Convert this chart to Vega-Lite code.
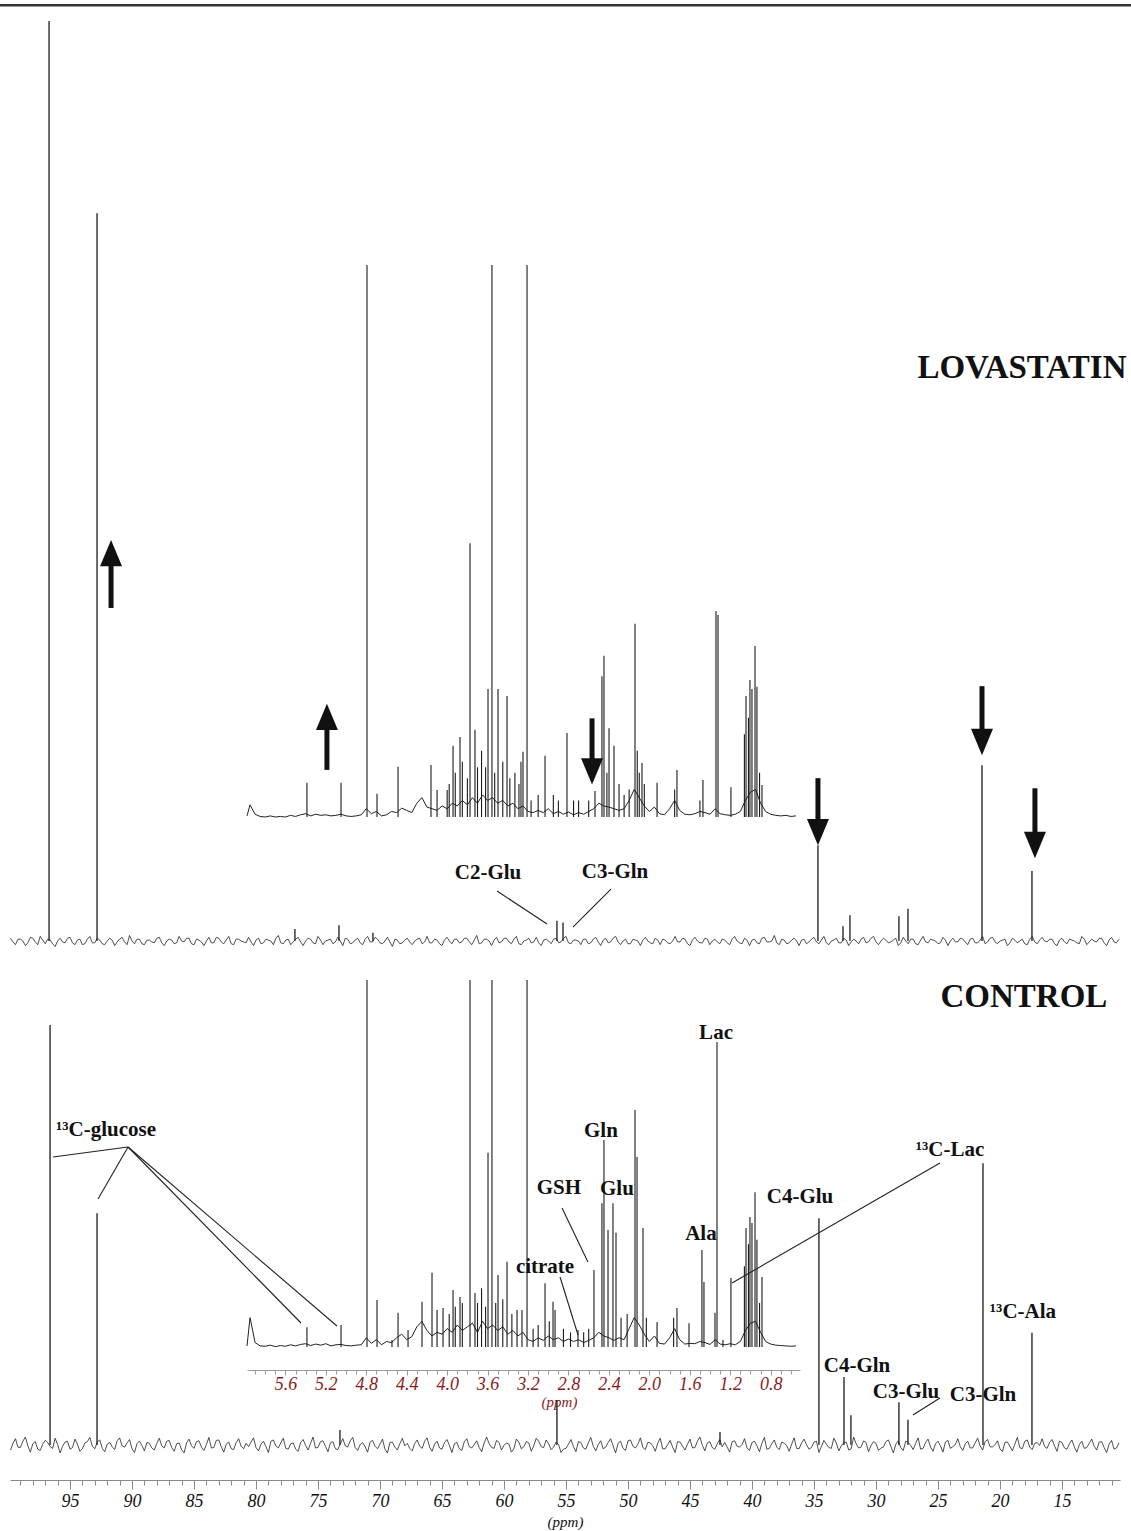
{
"$schema": "https://vega.github.io/schema/vega-lite/v6.json",
"width": 1131, "height": 1480,
"autosize": {"type": "none"},
"padding": {"left": 0, "top": 0, "right": 0, "bottom": 51},
"background": "white",
"config": {"view": {"stroke": null}},
"datasets": {
"noise": [
{"p":99.8,"t":0.3,"b":-1.2},{"p":99.4,"t":-0.4,"b":1.5},{"p":99.0,"t":0.2,"b":-0.6},{"p":98.6,"t":-0.5,"b":1.9},{"p":98.2,"t":0.4,"b":-1.7},{"p":97.8,"t":-0.1,"b":0.8},{"p":97.4,"t":0.5,"b":-1.3},{"p":97.0,"t":-0.3,"b":1.1},{"p":96.6,"t":0.1,"b":-0.4},{"p":96.2,"t":-0.6,"b":1.6},{"p":95.8,"t":0.3,"b":-1.9},{"p":95.4,"t":-0.2,"b":0.7},{"p":95.0,"t":0.4,"b":-1.0},{"p":94.6,"t":-0.4,"b":1.4},{"p":94.2,"t":0.2,"b":-1.5},{"p":93.8,"t":-0.3,"b":0.5},
{"p":93.4,"t":0.5,"b":1.8},{"p":93.0,"t":-0.2,"b":-0.9},{"p":92.6,"t":0.1,"b":1.2},{"p":92.2,"t":-0.4,"b":-1.6},{"p":91.8,"t":0.3,"b":0.6},{"p":91.4,"t":-0.5,"b":-1.1},{"p":91.0,"t":0.2,"b":1.7},{"p":90.6,"t":-0.1,"b":-0.5},{"p":90.2,"t":0.6,"b":1.3},{"p":89.8,"t":-0.3,"b":-1.8},{"p":89.4,"t":0.2,"b":0.9},{"p":89.0,"t":-0.4,"b":-1.4},{"p":88.6,"t":0.1,"b":0.4},{"p":88.2,"t":-0.2,"b":-1.2},{"p":87.8,"t":0.4,"b":1.6},{"p":87.4,"t":-0.5,"b":-0.7},
{"p":87.0,"t":0.2,"b":1.1},{"p":86.6,"t":-0.3,"b":-1.5},{"p":86.2,"t":0.5,"b":0.5},{"p":85.8,"t":-0.1,"b":-1.9},{"p":85.4,"t":0.3,"b":1.4},{"p":85.0,"t":-0.4,"b":-0.8},{"p":84.6,"t":0.1,"b":1.0},{"p":84.2,"t":-0.5,"b":-1.3},{"p":83.8,"t":0.4,"b":1.8},{"p":83.4,"t":-0.2,"b":-0.6},{"p":83.0,"t":0.3,"b":1.2},{"p":82.6,"t":-0.3,"b":-1.7},{"p":82.2,"t":0.5,"b":0.7},{"p":81.8,"t":-0.4,"b":-1.1},{"p":81.4,"t":0.2,"b":1.5},{"p":81.0,"t":-0.1,"b":-0.9},
{"p":80.6,"t":0.4,"b":-0.4},{"p":80.2,"t":-0.5,"b":1.7},{"p":79.8,"t":0.3,"b":-1.4},{"p":79.4,"t":-0.2,"b":0.9},{"p":79.0,"t":0.1,"b":-1.8},{"p":78.6,"t":-0.4,"b":1.2},{"p":78.2,"t":0.6,"b":-0.7},{"p":77.8,"t":-0.3,"b":1.6},{"p":77.4,"t":0.2,"b":-1.0},{"p":77.0,"t":-0.1,"b":0.5},{"p":76.6,"t":0.4,"b":-1.5},{"p":76.2,"t":-0.5,"b":1.3},{"p":75.8,"t":0.3,"b":-1.2},{"p":75.4,"t":-0.2,"b":1.9},{"p":75.0,"t":0.5,"b":-0.6},{"p":74.6,"t":-0.4,"b":1.0},
{"p":74.2,"t":0.1,"b":-1.6},{"p":73.8,"t":-0.3,"b":0.8},{"p":73.4,"t":0.4,"b":-1.1},{"p":73.0,"t":-0.5,"b":1.5},{"p":72.6,"t":0.2,"b":-0.5},{"p":72.2,"t":-0.2,"b":1.8},{"p":71.8,"t":0.3,"b":-1.3},{"p":71.4,"t":-0.4,"b":0.6},{"p":71.0,"t":0.5,"b":-1.7},{"p":70.6,"t":-0.1,"b":1.1},{"p":70.2,"t":0.2,"b":-0.9},{"p":69.8,"t":-0.3,"b":1.4},{"p":69.4,"t":0.4,"b":-1.9},{"p":69.0,"t":-0.6,"b":0.7},{"p":68.6,"t":0.1,"b":-1.2},{"p":68.2,"t":-0.2,"b":1.6},
{"p":67.8,"t":0.3,"b":0.4},{"p":67.4,"t":-0.4,"b":-1.4},{"p":67.0,"t":0.2,"b":1.2},{"p":66.6,"t":-0.3,"b":-0.8},{"p":66.2,"t":0.5,"b":1.7},{"p":65.8,"t":-0.2,"b":-1.5},{"p":65.4,"t":0.1,"b":0.9},{"p":65.0,"t":-0.5,"b":-1.0},{"p":64.6,"t":0.4,"b":1.3},{"p":64.2,"t":-0.3,"b":-1.8},{"p":63.8,"t":0.2,"b":0.6},{"p":63.4,"t":-0.1,"b":-1.3},{"p":63.0,"t":0.3,"b":1.5},{"p":62.6,"t":-0.4,"b":-0.7},{"p":62.2,"t":0.6,"b":1.0},{"p":61.8,"t":-0.2,"b":-1.6},
{"p":61.4,"t":0.2,"b":1.9},{"p":61.0,"t":-0.5,"b":-0.6},{"p":60.6,"t":0.4,"b":1.1},{"p":60.2,"t":-0.1,"b":-1.2},{"p":59.8,"t":0.3,"b":0.5},{"p":59.4,"t":-0.3,"b":-1.7},{"p":59.0,"t":0.5,"b":1.4},{"p":58.6,"t":-0.4,"b":-0.9},{"p":58.2,"t":0.1,"b":0.8},{"p":57.8,"t":-0.2,"b":-1.5},{"p":57.4,"t":0.4,"b":1.6},{"p":57.0,"t":-0.5,"b":-0.4},{"p":56.6,"t":0.2,"b":1.2},{"p":56.2,"t":-0.3,"b":-1.1},{"p":55.8,"t":0.3,"b":0.7},{"p":55.4,"t":-0.1,"b":-1.8},
{"p":55.0,"t":0.5,"b":-0.8},{"p":54.6,"t":-0.3,"b":1.3},{"p":54.2,"t":0.1,"b":-1.6},{"p":53.8,"t":-0.4,"b":0.6},{"p":53.4,"t":0.2,"b":-1.0},{"p":53.0,"t":-0.2,"b":1.8},{"p":52.6,"t":0.4,"b":-1.4},{"p":52.2,"t":-0.5,"b":1.0},{"p":51.8,"t":0.3,"b":-0.5},{"p":51.4,"t":-0.1,"b":1.5},{"p":51.0,"t":0.5,"b":-1.9},{"p":50.6,"t":-0.4,"b":0.9},{"p":50.2,"t":0.2,"b":-1.3},{"p":49.8,"t":-0.3,"b":1.2},{"p":49.4,"t":0.1,"b":-0.7},{"p":49.0,"t":-0.5,"b":1.7},
{"p":48.6,"t":0.4,"b":-1.1},{"p":48.2,"t":-0.2,"b":0.5},{"p":47.8,"t":0.3,"b":-1.5},{"p":47.4,"t":-0.4,"b":1.6},{"p":47.0,"t":0.1,"b":-0.9},{"p":46.6,"t":-0.3,"b":1.1},{"p":46.2,"t":0.5,"b":-1.8},{"p":45.8,"t":-0.1,"b":0.7},{"p":45.4,"t":0.2,"b":-1.2},{"p":45.0,"t":-0.5,"b":1.4},{"p":44.6,"t":0.4,"b":-0.6},{"p":44.2,"t":-0.2,"b":1.9},{"p":43.8,"t":0.3,"b":-1.4},{"p":43.4,"t":-0.4,"b":0.8},{"p":43.0,"t":0.2,"b":-1.0},{"p":42.6,"t":-0.3,"b":1.3},
{"p":42.2,"t":0.1,"b":0.6},{"p":41.8,"t":-0.4,"b":-1.7},{"p":41.4,"t":0.5,"b":1.0},{"p":41.0,"t":-0.2,"b":-0.5},{"p":40.6,"t":0.3,"b":1.5},{"p":40.2,"t":-0.5,"b":-1.3},{"p":39.8,"t":0.2,"b":0.9},{"p":39.4,"t":-0.3,"b":-1.6},{"p":39.0,"t":0.4,"b":1.8},{"p":38.6,"t":-0.1,"b":-0.8},{"p":38.2,"t":0.6,"b":1.2},{"p":37.8,"t":-0.4,"b":-1.1},{"p":37.4,"t":0.1,"b":0.4},{"p":37.0,"t":-0.2,"b":-1.5},{"p":36.6,"t":0.3,"b":1.7},{"p":36.2,"t":-0.5,"b":-0.9},
{"p":35.8,"t":0.2,"b":1.4},{"p":35.4,"t":-0.1,"b":-1.0},{"p":35.0,"t":0.4,"b":0.7},{"p":34.6,"t":-0.3,"b":-1.8},{"p":34.2,"t":0.5,"b":1.1},{"p":33.8,"t":-0.4,"b":-0.6},{"p":33.4,"t":0.1,"b":1.6},{"p":33.0,"t":-0.2,"b":-1.4},{"p":32.6,"t":0.3,"b":0.5},{"p":32.2,"t":-0.5,"b":-1.2},{"p":31.8,"t":0.2,"b":1.9},{"p":31.4,"t":-0.3,"b":-0.7},{"p":31.0,"t":0.4,"b":1.0},{"p":30.6,"t":-0.1,"b":-1.6},{"p":30.2,"t":0.5,"b":0.8},{"p":29.8,"t":-0.4,"b":-1.3},
{"p":29.4,"t":0.3,"b":-0.5},{"p":29.0,"t":-0.2,"b":1.2},{"p":28.6,"t":0.1,"b":-1.9},{"p":28.2,"t":-0.5,"b":1.0},{"p":27.8,"t":0.4,"b":-1.3},{"p":27.4,"t":-0.3,"b":0.6},{"p":27.0,"t":0.2,"b":-1.1},{"p":26.6,"t":-0.4,"b":1.7},{"p":26.2,"t":0.5,"b":-0.8},{"p":25.8,"t":-0.2,"b":1.4},{"p":25.4,"t":0.1,"b":-1.5},{"p":25.0,"t":-0.3,"b":0.9},{"p":24.6,"t":0.4,"b":-1.7},{"p":24.2,"t":-0.5,"b":1.1},{"p":23.8,"t":0.3,"b":-0.4},{"p":23.4,"t":-0.1,"b":1.5},
{"p":23.0,"t":0.2,"b":-1.3},{"p":22.6,"t":-0.4,"b":0.9},{"p":22.2,"t":0.3,"b":-0.7},{"p":21.8,"t":-0.2,"b":1.6},{"p":21.4,"t":0.5,"b":-1.2},{"p":21.0,"t":-0.1,"b":1.3},{"p":20.6,"t":0.4,"b":-0.5},{"p":20.2,"t":-0.3,"b":1.0},{"p":19.8,"t":0.1,"b":-1.6},{"p":19.4,"t":-0.5,"b":0.7},{"p":19.0,"t":0.3,"b":-1.4},{"p":18.6,"t":-0.2,"b":1.8},{"p":18.2,"t":0.2,"b":-0.9},{"p":17.8,"t":-0.4,"b":1.2},{"p":17.4,"t":0.5,"b":-1.1},{"p":17.0,"t":-0.3,"b":0.6},
{"p":16.6,"t":0.4,"b":1.5},{"p":16.2,"t":-0.1,"b":-0.8},{"p":15.8,"t":0.2,"b":1.3},{"p":15.4,"t":-0.5,"b":-1.5},{"p":15.0,"t":0.3,"b":0.6},{"p":14.6,"t":-0.3,"b":-1.0},{"p":14.2,"t":0.1,"b":1.2},{"p":13.8,"t":-0.2,"b":-1.7},{"p":13.4,"t":0.5,"b":0.9},{"p":13.0,"t":-0.4,"b":-0.6},{"p":12.6,"t":0.2,"b":1.4},{"p":12.2,"t":-0.1,"b":-1.2},{"p":11.8,"t":0.3,"b":0.8},{"p":11.4,"t":-0.5,"b":-1.8},{"p":11.0,"t":0.4,"b":1.1},{"p":10.6,"t":-0.2,"b":-0.7},
{"p":99.6,"t":-0.1,"b":0.4},{"p":99.2,"t":0.2,"b":-0.5},{"p":98.8,"t":0.0,"b":0.9},{"p":98.4,"t":-0.2,"b":-0.2},{"p":98.0,"t":0.3,"b":0.3},{"p":97.6,"t":-0.4,"b":-1.0},{"p":97.2,"t":0.1,"b":0.2},{"p":96.8,"t":0.2,"b":0.6},{"p":96.4,"t":-0.3,"b":-0.8},{"p":96.0,"t":0.0,"b":0.1},{"p":95.6,"t":-0.1,"b":-0.3},{"p":95.2,"t":0.3,"b":0.9},{"p":94.8,"t":-0.2,"b":-0.6},{"p":94.4,"t":0.1,"b":0.2},{"p":94.0,"t":-0.4,"b":-0.9},{"p":93.6,"t":0.2,"b":0.8},
{"p":93.2,"t":-0.2,"b":-0.3},{"p":92.8,"t":0.3,"b":0.7},{"p":92.4,"t":-0.3,"b":-0.8},{"p":92.0,"t":0.0,"b":0.2},{"p":91.6,"t":0.1,"b":-0.4},{"p":91.2,"t":-0.1,"b":1.0},{"p":90.8,"t":0.4,"b":-0.2},{"p":90.4,"t":-0.4,"b":0.5},{"p":90.0,"t":0.0,"b":-0.9},{"p":89.6,"t":0.2,"b":0.3},{"p":89.2,"t":-0.3,"b":-0.1},{"p":88.8,"t":0.1,"b":0.6},{"p":88.4,"t":-0.1,"b":-0.7},{"p":88.0,"t":0.3,"b":0.4},{"p":87.6,"t":-0.2,"b":-0.2},{"p":87.2,"t":0.0,"b":0.9},
{"p":86.8,"t":0.1,"b":-0.6},{"p":86.4,"t":-0.2,"b":0.3},{"p":86.0,"t":0.0,"b":-1.1},{"p":85.6,"t":0.3,"b":0.5},{"p":85.2,"t":-0.3,"b":-0.2},{"p":84.8,"t":0.2,"b":0.8},{"p":84.4,"t":-0.1,"b":-0.5},{"p":84.0,"t":0.0,"b":0.1},{"p":83.6,"t":-0.2,"b":-0.7},{"p":83.2,"t":0.4,"b":1.1},{"p":82.8,"t":-0.1,"b":-0.4},{"p":82.4,"t":0.1,"b":0.2},{"p":82.0,"t":-0.3,"b":-0.9},{"p":81.6,"t":0.2,"b":0.6},{"p":81.2,"t":0.0,"b":-0.3},{"p":80.8,"t":-0.2,"b":0.4},
{"p":80.4,"t":-0.1,"b":0.7},{"p":80.0,"t":0.1,"b":-0.6},{"p":79.6,"t":-0.3,"b":0.2},{"p":79.2,"t":0.2,"b":-0.4},{"p":78.8,"t":0.0,"b":0.9},{"p":78.4,"t":0.3,"b":-0.2},{"p":78.0,"t":-0.2,"b":0.5},{"p":77.6,"t":0.1,"b":-0.8},{"p":77.2,"t":-0.4,"b":0.3},{"p":76.8,"t":0.2,"b":-1.0},{"p":76.4,"t":-0.1,"b":0.6},{"p":76.0,"t":0.0,"b":-0.1},{"p":75.6,"t":0.2,"b":0.4},{"p":75.2,"t":-0.3,"b":-0.7},{"p":74.8,"t":0.1,"b":0.8},{"p":74.4,"t":0.0,"b":-0.3},
{"p":74.0,"t":0.2,"b":0.5},{"p":73.6,"t":-0.1,"b":-0.9},{"p":73.2,"t":0.0,"b":0.3},{"p":72.8,"t":0.3,"b":-0.2},{"p":72.4,"t":-0.3,"b":1.0},{"p":72.0,"t":0.1,"b":-0.6},{"p":71.6,"t":-0.2,"b":0.1},{"p":71.2,"t":0.2,"b":-0.4},{"p":70.8,"t":-0.1,"b":0.7},{"p":70.4,"t":0.4,"b":-0.3},{"p":70.0,"t":-0.2,"b":0.2},{"p":69.6,"t":0.0,"b":-1.0},{"p":69.2,"t":-0.1,"b":0.6},{"p":68.8,"t":0.2,"b":-0.5},{"p":68.4,"t":-0.3,"b":0.3},{"p":68.0,"t":0.1,"b":-0.2},
{"p":67.6,"t":-0.1,"b":-0.8},{"p":67.2,"t":0.0,"b":0.4},{"p":66.8,"t":0.3,"b":-0.3},{"p":66.4,"t":-0.1,"b":0.9},{"p":66.0,"t":-0.2,"b":-0.5},{"p":65.6,"t":0.2,"b":0.2},{"p":65.2,"t":-0.3,"b":-0.7},{"p":64.8,"t":0.1,"b":0.6},{"p":64.4,"t":0.0,"b":-0.1},{"p":64.0,"t":0.2,"b":0.3},{"p":63.6,"t":-0.2,"b":-0.9},{"p":63.2,"t":0.3,"b":0.8},{"p":62.8,"t":-0.1,"b":-0.4},{"p":62.4,"t":0.1,"b":0.1},{"p":62.0,"t":-0.3,"b":-0.6},{"p":61.6,"t":0.2,"b":0.5},
{"p":61.2,"t":0.0,"b":0.3},{"p":60.8,"t":0.1,"b":-0.8},{"p":60.4,"t":-0.2,"b":0.6},{"p":60.0,"t":0.3,"b":-0.1},{"p":59.6,"t":-0.1,"b":0.2},{"p":59.2,"t":0.2,"b":-0.9},{"p":58.8,"t":-0.3,"b":0.7},{"p":58.4,"t":0.0,"b":-0.4},{"p":58.0,"t":0.3,"b":0.5},{"p":57.6,"t":-0.1,"b":-0.2},{"p":57.2,"t":-0.2,"b":0.9},{"p":56.8,"t":0.1,"b":-0.6},{"p":56.4,"t":0.0,"b":0.3},{"p":56.0,"t":0.2,"b":-0.5},{"p":55.6,"t":-0.2,"b":0.1},{"p":55.2,"t":0.3,"b":-1.0},
{"p":54.8,"t":-0.2,"b":0.2},{"p":54.4,"t":0.1,"b":-0.4},{"p":54.0,"t":0.0,"b":0.8},{"p":53.6,"t":0.2,"b":-0.7},{"p":53.2,"t":-0.3,"b":0.5},{"p":52.8,"t":0.2,"b":-0.3},{"p":52.4,"t":-0.1,"b":0.1},{"p":52.0,"t":0.1,"b":-0.9},{"p":51.6,"t":-0.2,"b":0.6},{"p":51.2,"t":0.3,"b":-0.2},{"p":50.8,"t":-0.1,"b":0.4},{"p":50.4,"t":0.0,"b":-0.8},{"p":50.0,"t":-0.3,"b":1.0},{"p":49.6,"t":0.2,"b":-0.3},{"p":49.2,"t":0.0,"b":0.2},{"p":48.8,"t":0.1,"b":-0.6},
{"p":48.4,"t":0.0,"b":0.6},{"p":48.0,"t":-0.3,"b":-0.2},{"p":47.6,"t":0.1,"b":0.4},{"p":47.2,"t":0.2,"b":-0.9},{"p":46.8,"t":-0.2,"b":0.1},{"p":46.4,"t":0.0,"b":-0.5},{"p":46.0,"t":-0.1,"b":0.8},{"p":45.6,"t":0.3,"b":-0.3},{"p":45.2,"t":-0.3,"b":0.2},{"p":44.8,"t":0.1,"b":-0.7},{"p":44.4,"t":0.0,"b":0.9},{"p":44.0,"t":-0.2,"b":-0.1},{"p":43.6,"t":0.2,"b":0.5},{"p":43.2,"t":0.0,"b":-0.6},{"p":42.8,"t":-0.1,"b":0.3},{"p":42.4,"t":0.2,"b":-0.4},
{"p":42.0,"t":-0.2,"b":-0.5},{"p":41.6,"t":0.2,"b":0.8},{"p":41.2,"t":0.0,"b":-0.3},{"p":40.8,"t":-0.3,"b":0.1},{"p":40.4,"t":0.1,"b":-0.7},{"p":40.0,"t":0.1,"b":0.6},{"p":39.6,"t":-0.2,"b":-0.2},{"p":39.2,"t":0.3,"b":0.4},{"p":38.8,"t":-0.1,"b":-1.0},{"p":38.4,"t":0.0,"b":0.3},{"p":38.0,"t":-0.2,"b":-0.5},{"p":37.6,"t":0.2,"b":0.7},{"p":37.2,"t":-0.3,"b":-0.1},{"p":36.8,"t":0.1,"b":0.2},{"p":36.4,"t":0.0,"b":-0.8},{"p":36.0,"t":0.1,"b":0.5},
{"p":35.6,"t":-0.3,"b":0.1},{"p":35.2,"t":0.2,"b":-0.6},{"p":34.8,"t":-0.1,"b":0.9},{"p":34.4,"t":0.1,"b":-0.4},{"p":34.0,"t":-0.2,"b":0.2},{"p":33.6,"t":0.0,"b":-0.8},{"p":33.2,"t":0.3,"b":0.5},{"p":32.8,"t":-0.2,"b":-0.2},{"p":32.4,"t":0.1,"b":0.7},{"p":32.0,"t":-0.1,"b":-0.9},{"p":31.6,"t":0.0,"b":0.3},{"p":31.2,"t":0.2,"b":-0.5},{"p":30.8,"t":-0.2,"b":0.6},{"p":30.4,"t":0.3,"b":-0.1},{"p":30.0,"t":-0.1,"b":0.4},{"p":29.6,"t":0.0,"b":-0.7},
{"p":29.2,"t":0.1,"b":0.8},{"p":28.8,"t":-0.1,"b":-0.3},{"p":28.4,"t":0.3,"b":0.2},{"p":28.0,"t":-0.2,"b":-0.6},{"p":27.6,"t":0.0,"b":0.9},{"p":27.2,"t":0.2,"b":-0.1},{"p":26.8,"t":-0.3,"b":0.4},{"p":26.4,"t":0.1,"b":-1.0},{"p":26.0,"t":-0.1,"b":0.6},{"p":25.6,"t":0.2,"b":-0.5},{"p":25.2,"t":0.0,"b":0.3},{"p":24.8,"t":-0.2,"b":-0.2},{"p":24.4,"t":0.1,"b":0.7},{"p":24.0,"t":0.0,"b":-0.8},{"p":23.6,"t":-0.1,"b":0.1},{"p":23.2,"t":0.3,"b":-0.4},
{"p":22.8,"t":-0.1,"b":0.3},{"p":22.4,"t":0.2,"b":-0.7},{"p":22.0,"t":-0.2,"b":0.5},{"p":21.6,"t":0.1,"b":-0.2},{"p":21.2,"t":-0.3,"b":0.8},{"p":20.8,"t":0.3,"b":-0.4},{"p":20.4,"t":-0.1,"b":0.1},{"p":20.0,"t":0.0,"b":-0.9},{"p":19.6,"t":0.2,"b":0.6},{"p":19.2,"t":-0.2,"b":-0.3},{"p":18.8,"t":0.1,"b":0.2},{"p":18.4,"t":0.0,"b":-0.6},{"p":18.0,"t":-0.3,"b":0.9},{"p":17.6,"t":0.2,"b":-0.5},{"p":17.2,"t":-0.1,"b":0.4},{"p":16.8,"t":0.1,"b":-0.1},
{"p":16.4,"t":0.0,"b":-0.4},{"p":16.0,"t":0.2,"b":0.6},{"p":15.6,"t":-0.3,"b":-0.2},{"p":15.2,"t":0.1,"b":0.9},{"p":14.8,"t":-0.1,"b":-0.7},{"p":14.4,"t":0.2,"b":0.3},{"p":14.0,"t":0.0,"b":-0.5},{"p":13.6,"t":-0.3,"b":0.1},{"p":13.2,"t":0.2,"b":-0.8},{"p":12.8,"t":-0.1,"b":0.4},{"p":12.4,"t":0.0,"b":-0.3},{"p":12.0,"t":0.3,"b":0.7},{"p":11.6,"t":-0.2,"b":-0.6},{"p":11.2,"t":0.1,"b":0.2},{"p":10.8,"t":-0.1,"b":-1.0},{"p":10.4,"t":0.2,"b":0.5}
],
"peaksT": [
{"p":96.69,"h":100},{"p":92.82,"h":79.1},{"p":76.86,"h":1.3},{"p":73.31,"h":1.7},{"p":70.57,"h":0.9},{"p":55.73,"h":2.2},{"p":55.24,"h":2.0},{"p":34.68,"h":10.4},{"p":32.66,"h":1.6},{"p":32.1,"h":2.8},{"p":28.15,"h":2.7},{"p":27.42,"h":3.5},{"p":21.45,"h":19.1},{"p":17.42,"h":7.6}
],
"peaksB": [
{"p":96.61,"h":100},{"p":92.82,"h":55.2},{"p":73.23,"h":3.6},{"p":55.73,"h":10.7},{"p":42.58,"h":3.1},{"p":34.6,"h":54},{"p":32.58,"h":16.2},{"p":32.02,"h":7.1},{"p":28.15,"h":10.2},{"p":27.42,"h":6},{"p":21.37,"h":67.1},{"p":17.42,"h":26.7}
],
"inset": [
{"q":5.98,"u":0.2,"l":0.3},{"q":5.95,"u":2.2,"l":8.0},{"q":5.9,"u":0.5,"l":1.2},{"q":5.85,"u":0.1,"l":0.3},{"q":5.8,"u":0.0,"l":0.2},{"q":5.75,"u":0.2,"l":0.5},{"q":5.7,"u":0.0,"l":0.1},{"q":5.65,"u":0.1,"l":0.4},{"q":5.6,"u":0.0,"l":0.2},{"q":5.55,"u":0.3,"l":0.6},{"q":5.5,"u":0.1,"l":0.3},{"q":5.45,"u":0.4,"l":0.7},{"q":5.4,"u":0.6,"l":0.9},{"q":5.35,"u":0.2,"l":0.4},{"q":5.3,"u":0.5,"l":0.8},{"q":5.25,"u":0.3,"l":0.5},{"q":5.2,"u":0.4,"l":0.9},{"q":5.15,"u":0.2,"l":0.3},{"q":5.1,"u":0.3,"l":0.6},{"q":5.05,"u":0.5,"l":0.7},{"q":5.0,"u":0.2,"l":0.4},{"q":4.95,"u":0.1,"l":0.3},{"q":4.9,"u":0.2,"l":0.5},{"q":4.85,"u":0.4,"l":0.6},{"q":4.8,"u":1.5,"l":2.5},{"q":4.75,"u":0.6,"l":1.0},{"q":4.7,"u":1.0,"l":2.0},{"q":4.65,"u":0.2,"l":0.6},{"q":4.6,"u":0.4,"l":1.5},{"q":4.55,"u":1.0,"l":1.2},{"q":4.5,"u":0.8,"l":2.5},{"q":4.45,"u":1.6,"l":3.5},{"q":4.4,"u":1.2,"l":2.0},{"q":4.35,"u":0.8,"l":2.8},{"q":4.3,"u":2.5,"l":5.5},{"q":4.25,"u":3.5,"l":7.0},{"q":4.2,"u":1.8,"l":4.5},{"q":4.15,"u":1.5,"l":3.0},{"q":4.1,"u":1.2,"l":4.0},{"q":4.05,"u":2.0,"l":3.5},{"q":4.0,"u":1.5,"l":5.0},{"q":3.95,"u":2.5,"l":4.0},{"q":3.9,"u":2.0,"l":6.0},{"q":3.85,"u":3.0,"l":4.5},{"q":3.8,"u":2.2,"l":5.5},{"q":3.75,"u":3.5,"l":6.5},{"q":3.7,"u":2.5,"l":4.0},{"q":3.65,"u":4.0,"l":7.0},{"q":3.6,"u":3.0,"l":5.0},{"q":3.55,"u":3.5,"l":6.0},{"q":3.5,"u":2.5,"l":4.5},{"q":3.45,"u":3.0,"l":5.5},{"q":3.4,"u":2.0,"l":3.5},{"q":3.35,"u":2.5,"l":4.5},{"q":3.3,"u":1.5,"l":3.0},{"q":3.25,"u":2.0,"l":4.0},{"q":3.2,"u":1.0,"l":2.0},{"q":3.15,"u":0.8,"l":1.5},{"q":3.1,"u":1.2,"l":2.5},{"q":3.05,"u":0.8,"l":1.8},{"q":3.0,"u":1.5,"l":3.0},{"q":2.95,"u":0.6,"l":2.0},{"q":2.9,"u":1.0,"l":2.5},{"q":2.85,"u":0.5,"l":1.5},{"q":2.8,"u":0.9,"l":2.2},{"q":2.75,"u":0.4,"l":1.5},{"q":2.7,"u":0.8,"l":2.0},{"q":2.65,"u":0.5,"l":1.2},{"q":2.6,"u":1.0,"l":1.8},{"q":2.55,"u":1.5,"l":2.5},{"q":2.5,"u":2.5,"l":4.0},{"q":2.45,"u":2.0,"l":3.0},{"q":2.4,"u":1.8,"l":2.5},{"q":2.35,"u":1.5,"l":1.8},{"q":2.3,"u":1.2,"l":2.5},{"q":2.25,"u":1.5,"l":2.0},{"q":2.2,"u":3.0,"l":5.0},{"q":2.15,"u":5.0,"l":8.0},{"q":2.1,"u":3.5,"l":6.0},{"q":2.05,"u":2.0,"l":3.5},{"q":2.0,"u":1.0,"l":1.5},{"q":1.95,"u":1.8,"l":3.0},{"q":1.9,"u":0.6,"l":1.0},{"q":1.85,"u":0.4,"l":0.8},{"q":1.8,"u":1.5,"l":2.5},{"q":1.75,"u":3.0,"l":5.0},{"q":1.7,"u":1.2,"l":2.0},{"q":1.65,"u":0.5,"l":0.8},{"q":1.6,"u":0.4,"l":1.0},{"q":1.55,"u":0.6,"l":0.9},{"q":1.5,"u":1.0,"l":1.5},{"q":1.45,"u":0.8,"l":1.2},{"q":1.4,"u":0.5,"l":0.7},{"q":1.35,"u":1.5,"l":2.0},{"q":1.3,"u":0.6,"l":0.8},{"q":1.25,"u":0.4,"l":0.6},{"q":1.2,"u":0.3,"l":0.9},{"q":1.15,"u":0.5,"l":0.6},{"q":1.1,"u":1.0,"l":1.5},{"q":1.05,"u":3.0,"l":4.5},{"q":1.0,"u":4.5,"l":6.5},{"q":0.95,"u":5.0,"l":7.0},{"q":0.9,"u":2.5,"l":4.0},{"q":0.85,"u":1.0,"l":1.5},{"q":0.8,"u":0.5,"l":0.8},{"q":0.75,"u":0.3,"l":0.5},{"q":0.7,"u":0.2,"l":0.4},{"q":0.65,"u":0.3,"l":0.3},{"q":0.6,"u":0.1,"l":0.2},{"q":0.55,"u":0.2,"l":0.3}
],
"peaksTI": [
{"q":5.387,"h":6.2},{"q":5.05,"h":6.2},{"q":4.793,"h":100},{"q":4.694,"h":4.2},{"q":4.486,"h":9.1},{"q":4.16,"h":9.4},{"q":4.1,"h":4.9},{"q":4.0,"h":4.9},{"q":3.98,"h":6},{"q":3.942,"h":12.9},{"q":3.92,"h":8},{"q":3.873,"h":14.5},{"q":3.85,"h":10},{"q":3.8,"h":7},{"q":3.774,"h":49.6},{"q":3.725,"h":15.8},{"q":3.7,"h":9},{"q":3.66,"h":12},{"q":3.62,"h":9},{"q":3.596,"h":23.2},{"q":3.557,"h":100},{"q":3.53,"h":8},{"q":3.497,"h":23.2},{"q":3.45,"h":10},{"q":3.408,"h":21.9},{"q":3.38,"h":7},{"q":3.33,"h":8},{"q":3.29,"h":6},{"q":3.27,"h":10},{"q":3.25,"h":11.8},{"q":3.21,"h":100},{"q":3.17,"h":3},{"q":3.1,"h":4},{"q":3.032,"h":11.1},{"q":2.95,"h":4},{"q":2.9,"h":3},{"q":2.815,"h":15.2},{"q":2.75,"h":3},{"q":2.7,"h":3},{"q":2.6,"h":3},{"q":2.538,"h":4.7},{"q":2.469,"h":25.5},{"q":2.449,"h":29.2},{"q":2.42,"h":8},{"q":2.399,"h":16.1},{"q":2.35,"h":12.9},{"q":2.3,"h":6},{"q":2.25,"h":4},{"q":2.2,"h":5},{"q":2.142,"h":35},{"q":2.12,"h":12},{"q":2.1,"h":8},{"q":2.073,"h":9.8},{"q":2.05,"h":6},{"q":1.924,"h":6.2},{"q":1.75,"h":5},{"q":1.727,"h":8.5},{"q":1.5,"h":3},{"q":1.47,"h":6.7},{"q":1.341,"h":37.3},{"q":1.321,"h":36.6},{"q":1.193,"h":5.4},{"q":1.06,"h":15},{"q":1.044,"h":21.9},{"q":1.02,"h":18},{"q":1.005,"h":24.8},{"q":0.985,"h":23.2},{"q":0.955,"h":31},{"q":0.936,"h":23.6},{"q":0.91,"h":8},{"q":0.886,"h":5.8}
],
"peaksBI": [
{"q":5.387,"h":5.4},{"q":5.05,"h":6.0},{"q":4.793,"h":100},{"q":4.694,"h":12.8},{"q":4.546,"h":1.9},{"q":4.486,"h":9.3},{"q":4.387,"h":4.6},{"q":4.249,"h":12.3},{"q":4.15,"h":20.2},{"q":4.1,"h":10.1},{"q":4.041,"h":10.6},{"q":3.98,"h":9},{"q":3.942,"h":15.5},{"q":3.92,"h":11},{"q":3.873,"h":13.6},{"q":3.85,"h":12},{"q":3.774,"h":100},{"q":3.725,"h":14.7},{"q":3.7,"h":12},{"q":3.66,"h":16},{"q":3.62,"h":11},{"q":3.596,"h":52.9},{"q":3.557,"h":100},{"q":3.52,"h":12},{"q":3.497,"h":19.6},{"q":3.45,"h":13},{"q":3.408,"h":23.2},{"q":3.36,"h":9},{"q":3.309,"h":10.1},{"q":3.26,"h":10.1},{"q":3.21,"h":100},{"q":3.15,"h":5},{"q":3.1,"h":6},{"q":3.032,"h":17.4},{"q":2.99,"h":7},{"q":2.953,"h":12.3},{"q":2.933,"h":10.1},{"q":2.85,"h":5},{"q":2.78,"h":4},{"q":2.706,"h":4.6},{"q":2.65,"h":4},{"q":2.6,"h":5},{"q":2.548,"h":21},{"q":2.469,"h":39.2},{"q":2.449,"h":56.4},{"q":2.409,"h":31.9},{"q":2.36,"h":39.2},{"q":2.33,"h":31.1},{"q":2.28,"h":8},{"q":2.22,"h":9},{"q":2.142,"h":64.6},{"q":2.122,"h":51.8},{"q":2.063,"h":32.4},{"q":2.03,"h":8},{"q":1.924,"h":6.8},{"q":1.76,"h":8},{"q":1.727,"h":10.6},{"q":1.608,"h":6.5},{"q":1.48,"h":26.4},{"q":1.46,"h":17.7},{"q":1.351,"h":9.3},{"q":1.331,"h":83.1},{"q":1.272,"h":1.9},{"q":1.193,"h":18.8},{"q":1.06,"h":22},{"q":1.044,"h":32.4},{"q":1.02,"h":28},{"q":1.005,"h":35.4},{"q":0.985,"h":33.8},{"q":0.955,"h":42.2},{"q":0.936,"h":29.2},{"q":0.91,"h":12},{"q":0.886,"h":19.1}
],
"arrows": [
{"p":91.69,"a":36.2,"b":41.2,"c":43.6,"d":"up"},
{"p":74.28,"a":18.6,"b":23.4,"c":25.8,"d":"up"},
{"p":52.9,"a":24.2,"b":19.4,"c":17.0,"d":"down"},
{"p":34.68,"a":17.7,"b":12.8,"c":10.4,"d":"down"},
{"p":21.45,"a":27.7,"b":22.6,"c":20.2,"d":"down"},
{"p":17.18,"a":16.6,"b":11.4,"c":9.0,"d":"down"}
],
"leadT": [
{"p":60.56,"v":5.43,"p2":56.53,"v2":1.85},
{"p":54.44,"v":1.52,"p2":51.37,"v2":5.65}
],
"leadB": [
{"p":96.37,"v":68.57,"p2":90.32,"v2":70.95},
{"p":90.32,"v":70.95,"p2":92.74,"v2":58.57},
{"p":90.32,"v":70.95,"p2":76.37,"v2":29.05},
{"p":90.32,"v":70.95,"p2":73.47,"v2":28.33},
{"p":55.32,"v":56.43,"p2":53.23,"v2":43.57},
{"p":55.48,"v":40.0,"p2":54.03,"v2":26.19},
{"p":41.61,"v":38.57,"p2":24.84,"v2":67.14},
{"p":27.02,"v":7.14,"p2":24.84,"v2":11.19}
],
"labT": [
{"p":61.29,"v":7.39,"t":"C2-Glu"},
{"p":51.05,"v":7.5,"t":"C3-Gln"}
],
"labB": [
{"p":92.1,"v":75,"t":"¹³C-glucose"},
{"p":42.9,"v":98.1,"t":"Lac"},
{"p":52.18,"v":74.76,"t":"Gln"},
{"p":55.57,"v":61.19,"t":"GSH"},
{"p":50.89,"v":60.95,"t":"Glu"},
{"p":56.69,"v":42.38,"t":"citrate"},
{"p":44.12,"v":50.24,"t":"Ala"},
{"p":36.13,"v":59.05,"t":"C4-Glu"},
{"p":24.03,"v":70.24,"t":"¹³C-Lac"},
{"p":18.15,"v":31.67,"t":"¹³C-Ala"},
{"p":31.53,"v":18.81,"t":"C4-Gln"},
{"p":27.58,"v":12.62,"t":"C3-Glu"},
{"p":21.37,"v":11.9,"t":"C3-Gln"}
],
"titleT": [{"p":18.23,"v":62.28,"t":"LOVASTATIN"}],
"titleB": [{"p":18.07,"v":106.7,"t":"CONTROL"}]
},
"layer": [
{"data":{"values":[{"k":1}]},"mark":{"type":"rule","color":"#333","strokeWidth":2.5},
 "encoding":{"y":{"datum":101.7,"type":"quantitative","scale":{"domain":[0,100],"range":[941,21],"nice":false,"zero":false},"axis":null}}},
{"data":{"name":"noise"},"mark":{"type":"line","color":"#222","strokeWidth":0.8},
 "encoding":{"x":{"field":"p","type":"quantitative","scale":{"domain":[99.84,10.32],"range":[10,1120],"nice":false,"zero":false},
   "axis":{"orient":"bottom","values":[95,90,85,80,75,70,65,60,55,50,45,40,35,30,25,20,15],"format":"d","grid":false,"tickSize":9,"tickColor":"#8a8a8a","domainColor":"#8a8a8a","labelFont":"Liberation Serif","labelFontStyle":"italic","labelFontSize":18,"labelColor":"#111","labelPadding":3,"labelOverlap":false,"labelBound":false,"labelFlush":false,"title":"(ppm)","titleFont":"Liberation Serif","titleFontStyle":"italic","titleFontWeight":"normal","titleFontSize":15,"titleColor":"#111","titlePadding":4}},
  "y":{"field":"t","type":"quantitative","scale":{"domain":[0,100],"range":[941,21],"nice":false,"zero":false},"axis":null}}},
{"data":{"name":"noise"},"mark":{"type":"line","color":"#222","strokeWidth":0.8},
 "encoding":{"x":{"field":"p","type":"quantitative","scale":{"domain":[99.84,10.32],"range":[10,1120],"nice":false,"zero":false},
   "axis":{"orient":"bottom","values":[11,12,13,14,15,16,17,18,19,20,21,22,23,24,25,26,27,28,29,30,31,32,33,34,35,36,37,38,39,40,41,42,43,44,45,46,47,48,49,50,51,52,53,54,55,56,57,58,59,60,61,62,63,64,65,66,67,68,69,70,71,72,73,74,75,76,77,78,79,80,81,82,83,84,85,86,87,88,89,90,91,92,93,94,95,96,97,98,99],"labels":false,"domain":false,"grid":false,"tickSize":5,"tickColor":"#8a8a8a","title":null}},
  "y":{"field":"b","type":"quantitative","scale":{"domain":[0,100],"range":[1445,1025],"nice":false,"zero":false},"axis":null}}},
{"data":{"name":"peaksT"},"mark":{"type":"rule","color":"#1a1a1a","strokeWidth":1.3},
 "encoding":{"x":{"field":"p","type":"quantitative","scale":{"domain":[99.84,10.32],"range":[10,1120],"nice":false,"zero":false},"axis":null},
  "y":{"field":"h","type":"quantitative","scale":{"domain":[0,100],"range":[941,21],"nice":false,"zero":false},"axis":null},"y2":{"datum":0}}},
{"data":{"name":"peaksB"},"mark":{"type":"rule","color":"#1a1a1a","strokeWidth":1.3},
 "encoding":{"x":{"field":"p","type":"quantitative","scale":{"domain":[99.84,10.32],"range":[10,1120],"nice":false,"zero":false},"axis":null},
  "y":{"field":"h","type":"quantitative","scale":{"domain":[0,100],"range":[1445,1025],"nice":false,"zero":false},"axis":null},"y2":{"datum":0}}},
{"data":{"name":"inset"},"mark":{"type":"line","color":"#222","strokeWidth":1},
 "encoding":{"x":{"field":"q","type":"quantitative","scale":{"domain":[5.98,0.51],"range":[247,800],"nice":false,"zero":false},"axis":null},
  "y":{"field":"u","type":"quantitative","scale":{"domain":[0,100],"range":[817,265],"nice":false,"zero":false},"axis":null}}},
{"data":{"name":"inset"},"mark":{"type":"line","color":"#222","strokeWidth":1},
 "encoding":{"x":{"field":"q","type":"quantitative","scale":{"domain":[5.98,0.51],"range":[247,800],"nice":false,"zero":false},
   "axis":{"orient":"bottom","offset":-110,"values":[5.6,5.2,4.8,4.4,4.0,3.6,3.2,2.8,2.4,2.0,1.6,1.2,0.8],"format":".1f","grid":false,"tickSize":5,"tickColor":"#999","domainColor":"#999","labelFont":"Liberation Serif","labelFontStyle":"italic","labelFontSize":18,"labelColor":"#8b1a1a","labelPadding":0,"labelDx":8,"labelOverlap":false,"labelBound":false,"labelFlush":false,"title":"(ppm)","titleFont":"Liberation Serif","titleFontStyle":"italic","titleFontWeight":"normal","titleFontSize":15,"titleColor":"#8b1a1a","titleX":559,"titleY":24}},
  "y":{"field":"l","type":"quantitative","scale":{"domain":[0,100],"range":[1347,980],"nice":false,"zero":false},"axis":null}}},
{"data":{"name":"peaksTI"},"mark":{"type":"rule","color":"#1a1a1a","strokeWidth":1.1},
 "encoding":{"x":{"field":"q","type":"quantitative","scale":{"domain":[5.98,0.51],"range":[247,800],"nice":false,"zero":false},"axis":null},
  "y":{"field":"h","type":"quantitative","scale":{"domain":[0,100],"range":[817,265],"nice":false,"zero":false},"axis":null},"y2":{"datum":0}}},
{"data":{"name":"peaksBI"},"mark":{"type":"rule","color":"#1a1a1a","strokeWidth":1.1},
 "encoding":{"x":{"field":"q","type":"quantitative","scale":{"domain":[5.98,0.51],"range":[247,800],"nice":false,"zero":false},
   "axis":{"orient":"bottom","offset":-110,"values":[0.6,0.7,0.8,0.9,1.0,1.1,1.2,1.3,1.4,1.5,1.6,1.7,1.8,1.9,2.0,2.1,2.2,2.3,2.4,2.5,2.6,2.7,2.8,2.9,3.0,3.1,3.2,3.3,3.4,3.5,3.6,3.7,3.8,3.9,4.0,4.1,4.2,4.3,4.4,4.5,4.6,4.7,4.8,4.9,5.0,5.1,5.2,5.3,5.4,5.5,5.6,5.7,5.8,5.9],"labels":false,"domain":false,"grid":false,"tickSize":4,"tickColor":"#999","title":null}},
  "y":{"field":"h","type":"quantitative","scale":{"domain":[0,100],"range":[1347,980],"nice":false,"zero":false},"axis":null},"y2":{"datum":0}}},
{"data":{"name":"arrows"},"mark":{"type":"rule","color":"#111","strokeWidth":5},
 "encoding":{"x":{"field":"p","type":"quantitative","scale":{"domain":[99.84,10.32],"range":[10,1120],"nice":false,"zero":false},"axis":null},
  "y":{"field":"a","type":"quantitative","scale":{"domain":[0,100],"range":[941,21],"nice":false,"zero":false},"axis":null},"y2":{"field":"b"}}},
{"data":{"name":"arrows"},"mark":{"type":"point","filled":true,"color":"#111","opacity":1,"size":484,"strokeWidth":0},
 "encoding":{"x":{"field":"p","type":"quantitative","scale":{"domain":[99.84,10.32],"range":[10,1120],"nice":false,"zero":false},"axis":null},
  "y":{"field":"c","type":"quantitative","scale":{"domain":[0,100],"range":[941,21],"nice":false,"zero":false},"axis":null},
  "shape":{"field":"d","type":"nominal","scale":{"domain":["up","down"],"range":["M0,0L-1,2.4L1,2.4Z","M0,0L-1,-2.4L1,-2.4Z"]},"legend":null}}},
{"data":{"name":"leadT"},"mark":{"type":"rule","color":"#222","strokeWidth":1.1},
 "encoding":{"x":{"field":"p","type":"quantitative","scale":{"domain":[99.84,10.32],"range":[10,1120],"nice":false,"zero":false},"axis":null},"x2":{"field":"p2"},
  "y":{"field":"v","type":"quantitative","scale":{"domain":[0,100],"range":[941,21],"nice":false,"zero":false},"axis":null},"y2":{"field":"v2"}}},
{"data":{"name":"leadB"},"mark":{"type":"rule","color":"#222","strokeWidth":1.1},
 "encoding":{"x":{"field":"p","type":"quantitative","scale":{"domain":[99.84,10.32],"range":[10,1120],"nice":false,"zero":false},"axis":null},"x2":{"field":"p2"},
  "y":{"field":"v","type":"quantitative","scale":{"domain":[0,100],"range":[1445,1025],"nice":false,"zero":false},"axis":null},"y2":{"field":"v2"}}},
{"data":{"name":"labT"},"mark":{"type":"text","font":"Liberation Serif","fontWeight":"bold","fontSize":21,"color":"#111","align":"center","baseline":"middle"},
 "encoding":{"x":{"field":"p","type":"quantitative","scale":{"domain":[99.84,10.32],"range":[10,1120],"nice":false,"zero":false},"axis":null},
  "y":{"field":"v","type":"quantitative","scale":{"domain":[0,100],"range":[941,21],"nice":false,"zero":false},"axis":null},"text":{"field":"t"}}},
{"data":{"name":"labB"},"mark":{"type":"text","font":"Liberation Serif","fontWeight":"bold","fontSize":21,"color":"#111","align":"center","baseline":"middle"},
 "encoding":{"x":{"field":"p","type":"quantitative","scale":{"domain":[99.84,10.32],"range":[10,1120],"nice":false,"zero":false},"axis":null},
  "y":{"field":"v","type":"quantitative","scale":{"domain":[0,100],"range":[1445,1025],"nice":false,"zero":false},"axis":null},"text":{"field":"t"}}},
{"data":{"name":"titleT"},"mark":{"type":"text","font":"Liberation Serif","fontWeight":"bold","fontSize":33,"color":"#111","align":"center","baseline":"middle"},
 "encoding":{"x":{"field":"p","type":"quantitative","scale":{"domain":[99.84,10.32],"range":[10,1120],"nice":false,"zero":false},"axis":null},
  "y":{"field":"v","type":"quantitative","scale":{"domain":[0,100],"range":[941,21],"nice":false,"zero":false},"axis":null},"text":{"field":"t"}}},
{"data":{"name":"titleB"},"mark":{"type":"text","font":"Liberation Serif","fontWeight":"bold","fontSize":33,"color":"#111","align":"center","baseline":"middle"},
 "encoding":{"x":{"field":"p","type":"quantitative","scale":{"domain":[99.84,10.32],"range":[10,1120],"nice":false,"zero":false},"axis":null},
  "y":{"field":"v","type":"quantitative","scale":{"domain":[0,100],"range":[1445,1025],"nice":false,"zero":false},"axis":null},"text":{"field":"t"}}}
],
"resolve":{"scale":{"x":"independent","y":"independent"},"axis":{"x":"independent","y":"independent"}}
}
